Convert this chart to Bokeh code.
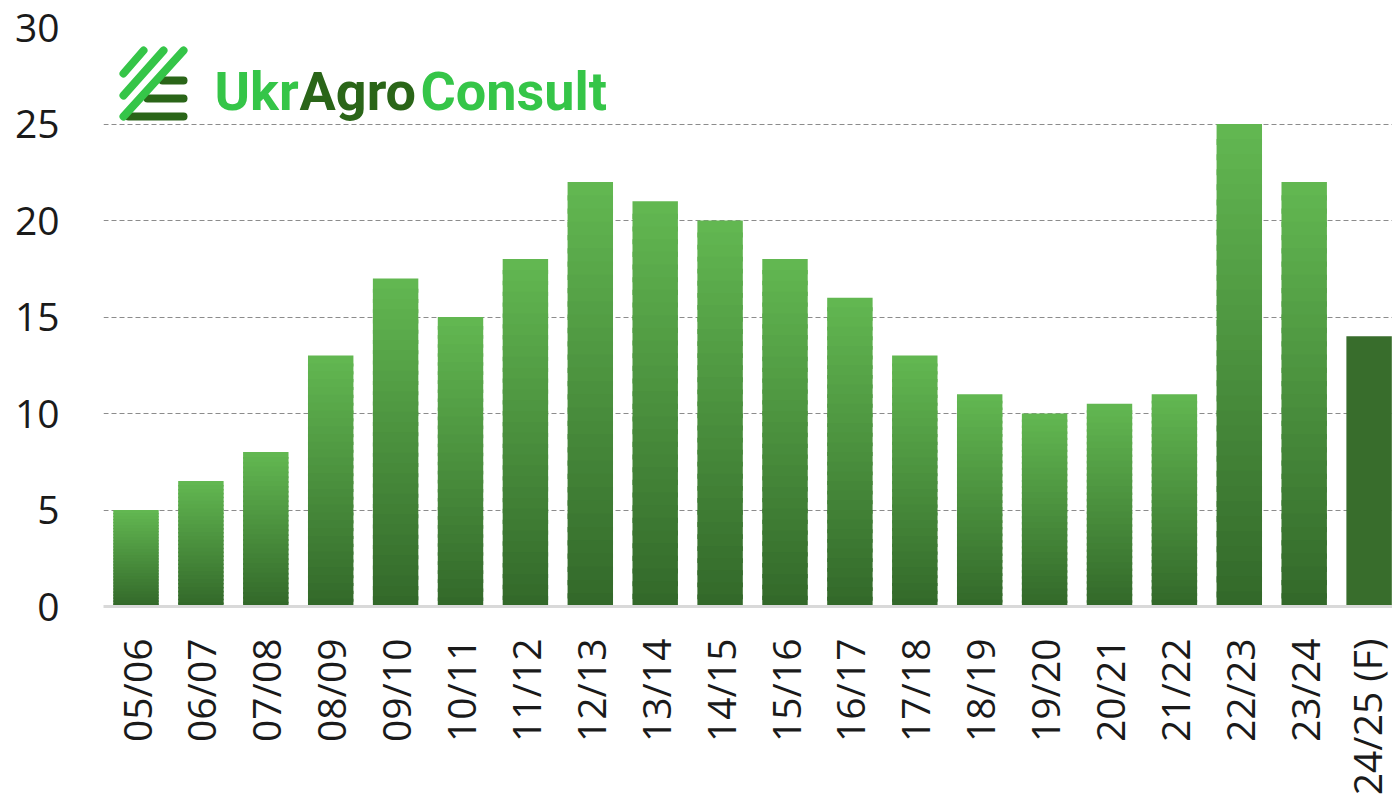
from bokeh.plotting import figure
from bokeh.embed import file_html
from bokeh.resources import INLINE
from bokeh.models import FixedTicker, Range1d
from bokeh.core.properties import value
import math

seasons = ["05/06","06/07","07/08","08/09","09/10","10/11","11/12","12/13","13/14","14/15",
           "15/16","16/17","17/18","18/19","19/20","20/21","21/22","22/23","23/24","24/25 (F)"]
values = [5,6.5,8,13,17,15,18,22,21,20,18,16,13,11,10,10.5,11,25,22,14]
y_ticks = [0,5,10,15,20,25,30]

TOP = (0x62,0xb7,0x51)
BOT = (0x33,0x69,0x2a)
FORECAST = "#386d2c"
W, H = 1392, 799
FL, FR, FT, FB = 103, 1392, 27, 606
STEP = 64.9
N = 32

def lerp(t):
    return "#%02x%02x%02x" % tuple(round(a+(b-a)*t) for a,b in zip(TOP,BOT))

x0 = 135.5
p = figure(width=W, height=H, frame_width=FR-FL, frame_height=FB-FT,
           output_backend="svg", toolbar_location=None,
           x_range=Range1d((FL-x0)/STEP, (FR-x0)/STEP), y_range=Range1d(0,30),
           min_border_left=FL, min_border_right=0, min_border_top=FT, min_border_bottom=0,
           outline_line_color=None, background_fill_color="white", border_fill_color="white")

l, r, t, b, c = [], [], [], [], []
for i, v in enumerate(values):
    if seasons[i].endswith("(F)"):
        l.append(i-.35); r.append(i+.35); t.append(v); b.append(0); c.append(FORECAST)
        continue
    for k in range(N):
        l.append(i-.35); r.append(i+.35)
        top = v*(1-k/N)
        t.append(top)
        b.append(max(top - 1.4*v/N, 0) if k < N-1 else 0)
        c.append(lerp(k/(N-1)))
p.quad(left=l, right=r, top=t, bottom=b, fill_color=c, line_color=None)

p.xgrid.visible = False
p.ygrid.ticker = FixedTicker(ticks=y_ticks)
p.ygrid.grid_line_color = "#8c8c8c"
p.ygrid.grid_line_dash = "5 3"
p.ygrid.grid_line_width = 1

ax = p.yaxis[0]
ax.ticker = FixedTicker(ticks=y_ticks)
ax.axis_line_color = None
ax.major_tick_line_color = None
ax.minor_tick_line_color = None
ax.major_label_text_font = "Open Sans"
ax.major_label_text_font_size = "39px"
ax.major_label_text_color = "#1a1a1a"
ax.major_label_standoff = 38

bx = p.xaxis[0]
bx.ticker = FixedTicker(ticks=list(range(len(seasons))))
bx.major_label_overrides = {i: s for i, s in enumerate(seasons)}
bx.major_label_orientation = math.pi/2
bx.axis_line_color = "#d9d9d9"
bx.axis_line_width = 3
bx.major_tick_line_color = None
bx.minor_tick_line_color = None
bx.major_label_text_font = "Open Sans"
bx.major_label_text_font_size = "39px"
bx.major_label_text_color = "#1a1a1a"
bx.major_label_standoff = 26

# logo (decoration positioned in page pixels)
LIGHT = "#35c548"; DARK = "#2a6518"
def dx(px): return (px-x0)/STEP
def dy(py): return (FB-py)*30/(FB-FT)
for y1, xs in [(80,162),(98,147),(116,128)]:
    p.segment(dx(xs), dy(y1), dx(183), dy(y1), line_color=DARK, line_width=8, line_cap="round")
for (a,bb,cc,d) in [(123,73,143,50),(123,95,163,50),(123,116,183,50)]:
    p.segment(dx(a), dy(bb), dx(cc), dy(d), line_color=LIGHT, line_width=8, line_cap="round")
for txt, px, col in [("Ukr",214,LIGHT),("Agro",299,DARK),("Consult",420,LIGHT)]:
    p.text(x=[dx(px)], y=[dy(91)], text=[txt], text_color=col, text_font=value("Roboto"),
           text_font_style="bold", text_font_size="54px", text_baseline="middle", text_align="left")

open("out.html","w").write(file_html(p, INLINE))
